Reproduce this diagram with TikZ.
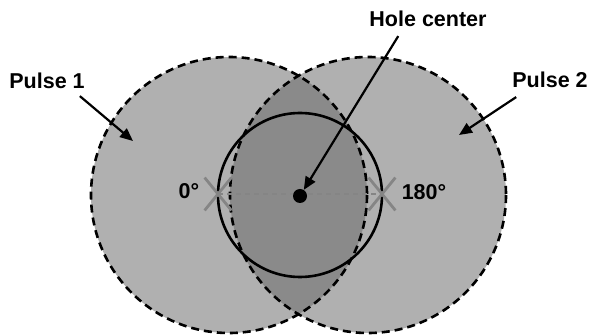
\documentclass[tikz,border=0pt]{standalone}
\usepackage{fontspec}
\setmainfont{Liberation Sans}
\usetikzlibrary{arrows.meta,positioning,shapes.misc}
\definecolor{pulseG}{gray}{0.69}
\definecolor{lensG}{gray}{0.54}
\definecolor{markG}{gray}{0.52}

\begin{document}
\begin{tikzpicture}[
  x=1pt, y=-1pt,
  lbl/.style={font=\fontsize{21.5}{26}\selectfont\bfseries, inner sep=0pt},
  rim/.style={draw=black, line width=2.6pt, dash pattern=on 8pt off 5pt},
  ptr/.style={-{Triangle[length=13pt,width=11pt]}, line width=2.2pt},
  xmark/.style={cross out, draw=markG, line width=2.8pt, inner sep=0pt, minimum width=24pt, minimum height=30pt},
  dot/.style={circle, fill=black, inner sep=0pt, minimum size=14pt}
]
\useasboundingbox (0,0) rectangle (592,336);
\coordinate (c1) at (229,195);
\coordinate (c2) at (368,195);
\coordinate (hc) at (300,195);
\fill[pulseG] (c1) circle[radius=138] (c2) circle[radius=138];
\begin{scope}
  \clip (c1) circle[radius=138];
  \fill[lensG] (c2) circle[radius=138];
\end{scope}
\draw[rim] (c1) circle[radius=138];
\draw[rim] (c2) circle[radius=138];
\draw[line width=2.6pt] (hc) circle[radius=82];
\node[xmark] (x0) at (218,194) {};
\node[xmark] (x180) at (382,194) {};
\draw[markG, line width=1.3pt, dash pattern=on 5pt off 4pt] (x0.center) -- (x180.center);
\node[dot] (hole) at (300,196) {};
\node[lbl] (p1) at (47,81) {Pulse 1};
\node[lbl] (p2) at (550,80) {Pulse 2};
\node[lbl] (hlbl) at (428,19) {Hole center};
\node[lbl] (deg0) at (189,191) {0°};
\node[lbl] (deg180) at (424,192) {180°};
\coordinate (p1tip) at (133,141);
\coordinate (p2tip) at (459,135);
\draw[ptr] ([shift={(-5,7)}]p1.south east) -- (p1tip);
\draw[ptr] ([shift={(4,9)}]p2.south west) -- (p2tip);
\draw[ptr] ([shift={(29,9)}]hlbl.south west) -- (hole);
\end{tikzpicture}
\end{document}
